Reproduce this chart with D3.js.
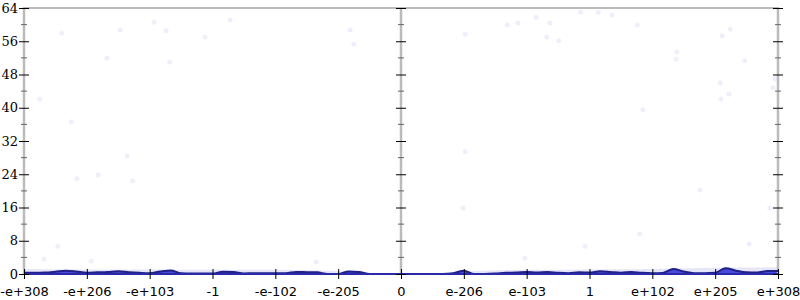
<!DOCTYPE html>
<html>
<head>
<meta charset="utf-8">
<script src="https://cdn.jsdelivr.net/npm/d3@7"></script>
<style>
  body { margin: 0; background: #fff; }
  svg { display: block; }
</style>
</head>
<body>
<svg id="chart" width="800" height="300"></svg>
<script>
// ---- data ----
const xTickLabels = ["-e+308","-e+206","-e+103","-1","-e-102","-e-205","0","e-206","e-103","1","e+102","e+205","e+308"];
const xTickPositions = [-6,-5,-4,-3,-2,-1,0,1,2,3,4,5,6];
const yTicks = [0,8,16,24,32,40,48,56,64];
const yMinorTicks = [4,12,20,28,36,44,52,60];

// step-like density line, sampled every 1/6 unit from -6 to 6
const lineX = d3.range(73).map(k => -6 + k / 6);
const lineValues = [
  0.3,0.3,0.35,0.55,0.8,0.6,0.3,0.4,0.5,0.65,0.45,0.3,0.2,0.6,0.85,0.2,0.1,0.1,0.1,0.55,0.5,0.15,0.2,0.2,
  0.2,0.2,0.5,0.45,0.4,0,0,0.6,0.5,0,0,0,0,0,0,0,0,0.2,0.8,0,0,0.1,0.3,0.35,
  0.5,0.35,0.5,0.3,0.2,0.4,0.35,0.65,0.5,0.3,0.5,0.3,0.2,0.25,1.2,0.6,0.2,0.2,0.3,1.4,0.8,0.4,0.35,0.75,0.7
];

// faint upper band
const bandX = [-6,-5,-4,-3,-2,-1,-0.5,0,0.5,1,2,3,4,5,6];
const bandUpper = [1.2,1.1,1.1,1.0,1.0,0.7,0.2,0.1,0.2,0.6,1.0,1.1,1.2,1.5,1.6];

// faint scattered points
const pointX = [-5.40,-4.47,-3.93,-3.74,-4.68,-3.68,-5.75,-5.25,-4.36,-5.16,-4.82,-4.27,-5.46,-5.68,-4.93,-1.35,
  -2.72,-3.12,-0.81,-0.75,1.02,1.69,1.86,2.15,2.37,2.32,2.51,2.86,3.14,1.02,1.97,2.93,3.80,5.54,
  5.24,5.11,5.47,5.08,5.22,5.92,5.95,5.09,3.85,4.76,5.87,0.99,3.76,3.36,4.39,4.38];
const pointY = [58.0,58.7,60.6,58.5,52.0,51.0,42.1,36.6,28.4,22.9,23.8,22.4,6.7,3.6,3.1,2.9,
  61.1,57.0,58.7,55.3,57.7,59.9,60.4,61.8,60.4,57.0,56.1,63.0,62.9,29.4,3.8,6.7,9.6,7.2,
  58.9,57.3,51.3,46.0,43.3,44.8,46.9,42.1,39.5,20.2,15.9,15.9,59.9,62.3,53.4,51.7];

// ---- chart ----
const svg = d3.select("#chart");
const x = d3.scaleLinear().domain([-6, 6]).range([24, 778]);
const y = d3.scaleLinear().domain([0, 64]).range([274, 8]);

// faint band
svg.append("path")
  .datum(bandX.map((d, i) => [d, bandUpper[i]]))
  .attr("fill", "#e6e6f8")
  .attr("d", d3.area().x(d => x(d[0])).y0(y(0)).y1(d => y(d[1])).curve(d3.curveMonotoneX));

// points
svg.append("g").selectAll("circle")
  .data(pointX.map((d, i) => [d, pointY[i]]))
  .join("circle")
  .attr("cx", d => x(d[0]))
  .attr("cy", d => y(d[1]))
  .attr("r", 2.5)
  .attr("fill", "#efeffb");

// area under line
const lineData = lineX.map((d, i) => [d, lineValues[i]]);
svg.append("path")
  .datum(lineData)
  .attr("fill", "#4a4ade")
  .attr("d", d3.area().x(d => x(d[0])).y0(y(0)).y1(d => y(d[1])).curve(d3.curveMonotoneX));

// axis lines (gray)
const gray = "#bbbbbb";
svg.append("line").attr("x1", x(-6)).attr("x2", x(6)).attr("y1", y(64)).attr("y2", y(64))
  .attr("stroke", gray).attr("stroke-width", 2);
[-6, 0, 6].forEach(v => {
  svg.append("line").attr("x1", x(v)).attr("x2", x(v)).attr("y1", y(64) - 1).attr("y2", y(0) + 1)
    .attr("stroke", gray).attr("stroke-width", 2.5);
});

// line
svg.append("path")
  .datum(lineData)
  .attr("fill", "none")
  .attr("stroke", "#20208a")
  .attr("stroke-width", 2)
  .attr("d", d3.line().x(d => x(d[0])).y(d => y(d[1])).curve(d3.curveMonotoneX));
svg.append("line").attr("x1", x(-6)).attr("x2", x(6)).attr("y1", y(0)).attr("y2", y(0))
  .attr("stroke", "#2a2aa8").attr("stroke-width", 2);

// y axes with ticks on both sides
[-6, 0, 6].forEach((v, idx) => {
  const g = svg.append("g").attr("transform", `translate(${x(v)},0)`);
  const ax = d3.axisLeft(y).tickValues(yTicks).tickSize(5).tickPadding(1);
  if (idx !== 0) ax.tickFormat("");
  g.call(ax);
  g.select(".domain").remove();
  g.selectAll(".tick line").attr("x1", 5).attr("x2", -5).attr("stroke", "#000").attr("stroke-width", 1);
  g.selectAll(".tick text")
    .attr("font-family", "'DejaVu Serif', serif")
    .attr("font-size", 13)
    .attr("fill", "#000");
  const minor = svg.append("g").attr("transform", `translate(${x(v)},0)`);
  minor.selectAll("line").data(yMinorTicks).join("line")
    .attr("x1", -3).attr("x2", 3)
    .attr("y1", d => y(d)).attr("y2", d => y(d))
    .attr("stroke", "#666").attr("stroke-width", 1);
});

// x axis ticks and labels
const xg = svg.append("g").attr("transform", `translate(0,${y(0)})`);
xg.call(d3.axisBottom(x).tickValues(xTickPositions).tickFormat((d, i) => xTickLabels[i]).tickSize(5).tickPadding(8));
xg.select(".domain").remove();
xg.selectAll(".tick line").attr("y1", -5).attr("y2", 5).attr("stroke", "#000");
xg.selectAll(".tick text")
  .attr("font-family", "'DejaVu Sans', sans-serif")
  .attr("font-size", 13)
  .attr("fill", "#000");
</script>
</body>
</html>
